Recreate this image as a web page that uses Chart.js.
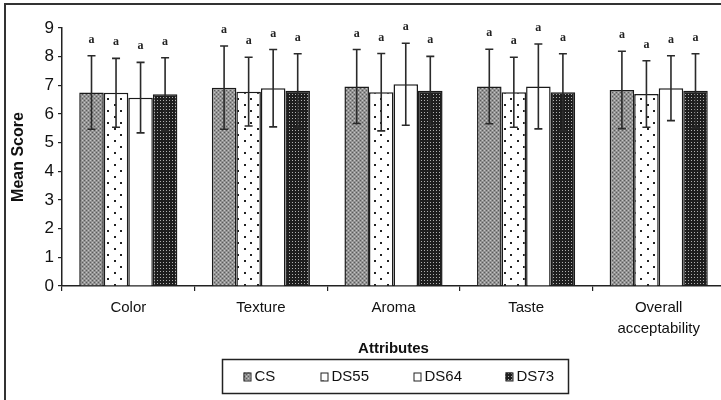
<!DOCTYPE html>
<html>
<head>
<meta charset="utf-8">
<script src="https://cdn.jsdelivr.net/npm/chart.js@4.4.1/dist/chart.umd.min.js"></script>
<style>
  html, body { margin: 0; padding: 0; background: #fff; overflow: hidden; width: 721px; height: 400px; }
  #wrap { position: relative; width: 740px; height: 400px; }
  canvas { display: block; }
</style>
</head>
<body>
<div id="wrap"><canvas id="c" width="740" height="400"></canvas></div>
<script>
// ---------- data ----------
const categories = ['Color', 'Texture', 'Aroma', 'Taste', ['Overall', 'acceptability']];
const seriesNames = ['CS', 'DS55', 'DS64', 'DS73'];
const csValues   = [6.75, 6.92, 6.96, 6.96, 6.84];
const csErrors   = [1.28, 1.45, 1.29, 1.30, 1.35];
const ds55Values = [6.74, 6.78, 6.76, 6.76, 6.70];
const ds55Errors = [1.20, 1.20, 1.35, 1.22, 1.16];
const ds64Values = [6.57, 6.90, 7.04, 6.96, 6.90];
const ds64Errors = [1.23, 1.35, 1.43, 1.48, 1.13];
const ds73Values = [6.69, 6.81, 6.81, 6.76, 6.81];
const ds73Errors = [1.27, 1.29, 1.20, 1.34, 1.29];
const csLetters   = ['a', 'a', 'a', 'a', 'a'];
const ds55Letters = ['a', 'a', 'a', 'a', 'a'];
const ds64Letters = ['a', 'a', 'a', 'a', 'a'];
const ds73Letters = ['a', 'a', 'a', 'a', 'a'];
const yTicks = [0, 1, 2, 3, 4, 5, 6, 7, 8, 9];
const xTitle = 'Attributes';
const yTitle = 'Mean Score';

// ---------- patterns ----------
function makePattern(w, h, draw) {
  const c = document.createElement('canvas');
  c.width = w; c.height = h;
  const g = c.getContext('2d');
  draw(g);
  return document.getElementById('c').getContext('2d').createPattern(c, 'repeat');
}
const patCS = makePattern(4, 4, g => {
  g.fillStyle = '#939393'; g.fillRect(0, 0, 4, 4);
  g.fillStyle = '#5c5c5c'; g.fillRect(0, 0, 1, 1); g.fillRect(2, 2, 1, 1);
  g.fillStyle = '#c4c4c4'; g.fillRect(2, 0, 1, 1); g.fillRect(0, 2, 1, 1);
});
const patDS55 = makePattern(13, 12, g => {
  g.fillStyle = '#fff'; g.fillRect(0, 0, 13, 12);
  g.fillStyle = '#222'; g.fillRect(3, 2, 2, 2); g.fillRect(10, 8, 2, 2);
});
const patDS64 = '#ffffff';
const patDS73 = makePattern(3, 3, g => {
  g.fillStyle = '#1e1e1e'; g.fillRect(0, 0, 3, 3);
  g.fillStyle = '#b0b0b0'; g.fillRect(1, 1, 1, 1);
});
const fills = [patCS, patDS55, patDS64, patDS73];

const FONT = "'Liberation Sans', Arial, sans-serif";

const values = [csValues, ds55Values, ds64Values, ds73Values];
const errors = [csErrors, ds55Errors, ds64Errors, ds73Errors];
const letters = [csLetters, ds55Letters, ds64Letters, ds73Letters];

const datasets = seriesNames.map((name, i) => ({
  label: name,
  data: values[i],
  errors: errors[i],
  letters: letters[i],
  backgroundColor: fills[i],
  borderColor: '#1a1a1a',
  borderWidth: 1.5,
  borderSkipped: 'bottom',
  categoryPercentage: 0.74,
  barPercentage: 1.0
}));

// ---------- plugins ----------
const errorBarPlugin = {
  id: 'errorBars',
  afterDatasetsDraw(chart) {
    const ctx = chart.ctx;
    const y = chart.scales.y;
    ctx.save();
    chart.data.datasets.forEach((ds, di) => {
      const meta = chart.getDatasetMeta(di);
      meta.data.forEach((bar, k) => {
        const v = ds.data[k], e = ds.errors[k];
        const yt = y.getPixelForValue(v + e);
        const yb = y.getPixelForValue(v - e);
        const x = bar.x;
        ctx.strokeStyle = '#2a2a2a';
        ctx.lineWidth = 1.6;
        ctx.beginPath();
        ctx.moveTo(x, yt); ctx.lineTo(x, yb);
        ctx.moveTo(x - 4, yt); ctx.lineTo(x + 4, yt);
        ctx.moveTo(x - 4, yb); ctx.lineTo(x + 4, yb);
        ctx.stroke();
        ctx.fillStyle = '#222';
        ctx.font = "bold 12px 'Liberation Serif', serif";
        ctx.textAlign = 'center';
        ctx.textBaseline = 'middle';
        ctx.fillText(ds.letters[k], x, yt - 16);
      });
    });
    ctx.restore();
  }
};

const frameLegendPlugin = {
  id: 'frameLegend',
  afterDraw(chart) {
    const ctx = chart.ctx;
    const ca = chart.chartArea;
    ctx.save();
    // outer frame (cropped figure)
    ctx.fillStyle = '#333';
    ctx.fillRect(4, 3, 740, 2);
    ctx.fillRect(4, 3, 2, 400);
    // legend box
    const cx = (ca.left + ca.right) / 2;
    const bw = 346, bh = 34;
    const bx = Math.round(cx - bw / 2 + 1) + 0.5, by = 359.5;
    ctx.strokeStyle = '#222';
    ctx.lineWidth = 1.5;
    ctx.strokeRect(bx, by, bw, bh);
    const offs = [21, 98, 191, 283];
    ctx.font = '15px ' + FONT;
    ctx.textBaseline = 'middle';
    ctx.textAlign = 'left';
    chart.data.datasets.forEach((ds, i) => {
      const sx = bx + offs[i];
      const sy = by + 13;
      ctx.fillStyle = ds.backgroundColor;
      ctx.fillRect(sx, sy, 7, 8);
      ctx.lineWidth = 1;
      ctx.strokeStyle = '#222';
      ctx.strokeRect(sx + 0.5, sy + 0.5, 7, 8);
      ctx.fillStyle = '#111';
      ctx.fillText(ds.label, sx + 11, by + bh / 2 + 0.5);
    });
    ctx.restore();
  }
};

new Chart(document.getElementById('c'), {
  type: 'bar',
  data: { labels: categories, datasets },
  options: {
    responsive: false,
    animation: false,
    devicePixelRatio: 1,
    layout: { padding: { left: 0, right: 15, top: 28, bottom: 42 } },
    plugins: { legend: { display: false }, tooltip: { enabled: false } },
    scales: {
      x: {
        grid: { display: true, drawOnChartArea: false, drawTicks: true, tickLength: 5, color: '#222', lineWidth: 1.2, offset: true },
        border: { display: true, color: '#222', width: 1.5 },
        ticks: { color: '#111', font: { family: FONT, size: 15, lineHeight: 1.35 }, padding: 7, maxRotation: 0, autoSkip: false },
        title: { display: true, text: xTitle, color: '#111', font: { family: FONT, size: 15, weight: 'bold' }, padding: 0 },
        afterFit(scale) { scale.height = 72; }
      },
      y: {
        min: 0, max: 9,
        afterBuildTicks(scale) { scale.ticks = yTicks.map(v => ({ value: v })); },
        grid: { display: true, drawOnChartArea: false, drawTicks: true, tickLength: 4, color: '#222', lineWidth: 1.2 },
        border: { display: true, color: '#222', width: 1.5 },
        ticks: { color: '#111', font: { family: FONT, size: 17 }, padding: 4 },
        title: { display: true, text: yTitle, color: '#111', font: { family: FONT, size: 16, weight: 'bold' }, padding: { top: 9, bottom: 0 } },
        afterFit(scale) { scale.width = 62; }
      }
    }
  },
  plugins: [errorBarPlugin, frameLegendPlugin]
});
</script>
</body>
</html>
